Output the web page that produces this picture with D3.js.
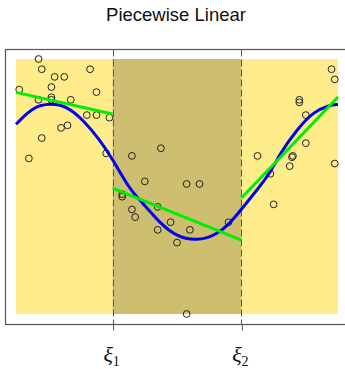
<!DOCTYPE html>
<html>
<head>
<meta charset="utf-8">
<script src="https://cdn.jsdelivr.net/npm/d3@7"></script>
<style>
  body { margin: 0; background: #fff; }
  svg { display: block; }
</style>
</head>
<body>
<svg id="chart" width="345" height="369"></svg>
<script>
// knots and data (x in [0,1], y in [0,1])
var knots = [0.3, 0.7];

var pointsX = [0.07, 0.08, 0.12, 0.15, 0.23, 0.01, 0.11, 0.25, 0.07, 0.11, 0.11, 0.17, 0.22, 0.25, 0.29,
               0.14, 0.16, 0.08, 0.04, 0.28, 0.36, 0.45, 0.98, 0.99, 0.88, 0.88, 0.90, 0.90, 0.75, 0.86,
               0.857, 0.79, 0.85, 0.99, 0.80, 0.66, 0.40, 0.53, 0.57, 0.33, 0.33, 0.36, 0.37, 0.44, 0.48,
               0.44, 0.54, 0.50, 0.53];
var pointsY = [1.00, 0.96, 0.93, 0.93, 0.96, 0.88, 0.89, 0.87, 0.84, 0.85, 0.84, 0.84, 0.78, 0.78, 0.77,
               0.73, 0.74, 0.69, 0.61, 0.63, 0.62, 0.65, 0.96, 0.92, 0.84, 0.83, 0.78, 0.67, 0.62, 0.62,
               0.615, 0.55, 0.58, 0.59, 0.43, 0.36, 0.52, 0.51, 0.51, 0.47, 0.46, 0.41, 0.38, 0.42, 0.36,
               0.33, 0.33, 0.28, 0.00];

// true function, sampled
var trueX = [0.0, 0.054, 0.106, 0.157, 0.209, 0.261, 0.302, 0.354, 0.395, 0.447, 0.499, 0.561, 0.623,
             0.665, 0.696, 0.748, 0.789, 0.820, 0.872, 0.923, 0.975, 1.0];
var trueY = [0.744, 0.813, 0.826, 0.816, 0.761, 0.682, 0.604, 0.486, 0.434, 0.356, 0.303, 0.286, 0.310,
             0.357, 0.404, 0.486, 0.552, 0.630, 0.722, 0.793, 0.820, 0.822];

// piecewise linear fit: start/end per region
var fitStartX = [0.0, 0.3, 0.7];
var fitEndX   = [0.3, 0.7, 1.0];
var fitStartY = [0.869, 0.494, 0.455];
var fitEndY   = [0.784, 0.290, 0.851];

var xLabels = ["1", "2"];

var svg = d3.select("#chart");

var x = d3.scaleLinear().domain([0, 1]).range([16, 338]);
var y = d3.scaleLinear().domain([0, 1]).range([314, 59]);

// background regions
var regions = [[0, knots[0], "#FFEC8B"], [knots[0], knots[1], "#CDBE70"], [knots[1], 1, "#FFEC8B"]];
svg.selectAll("rect.region")
  .data(regions)
  .enter()
  .append("rect")
  .attr("class", "region")
  .attr("x", function(d){ return x(d[0]); })
  .attr("y", y(1))
  .attr("width", function(d){ return x(d[1]) - x(d[0]); })
  .attr("height", y(0) - y(1))
  .attr("fill", function(d){ return d[2]; });

// frame (right side runs off the picture)
svg.append("rect")
  .attr("x", 5.5)
  .attr("y", 49.5)
  .attr("width", 360)
  .attr("height", 275)
  .attr("fill", "none")
  .attr("stroke", "#555")
  .attr("stroke-width", 1.2);

// knot dashes
svg.selectAll("line.knot")
  .data(knots)
  .enter()
  .append("line")
  .attr("class", "knot")
  .attr("x1", function(d){ return Math.round(x(d)) + 0.5; })
  .attr("x2", function(d){ return Math.round(x(d)) + 0.5; })
  .attr("y1", 49.5)
  .attr("y2", 324)
  .attr("stroke", "#555")
  .attr("stroke-width", 1)
  .attr("stroke-dasharray", "7,3");

// bottom axis ticks
var xAxis = d3.axisBottom(x)
  .tickValues(knots)
  .tickSize(6)
  .tickFormat("");
svg.append("g")
  .attr("transform", "translate(0.5,324.5)")
  .call(xAxis)
  .call(function(g){ g.select(".domain").remove(); })
  .selectAll("line")
  .attr("stroke", "#555");

// data points
var pts = pointsX.map(function(v, i){ return [v, pointsY[i]]; });
svg.selectAll("circle.pt")
  .data(pts)
  .enter()
  .append("circle")
  .attr("class", "pt")
  .attr("cx", function(d){ return x(d[0]); })
  .attr("cy", function(d){ return y(d[1]); })
  .attr("r", 3.4)
  .attr("fill", "none")
  .attr("stroke", "#222")
  .attr("stroke-width", 1);

// true function (blue)
var truePts = trueX.map(function(v, i){ return [v, trueY[i]]; });
svg.append("path")
  .datum(truePts)
  .attr("d", d3.line()
    .x(function(d){ return x(d[0]); })
    .y(function(d){ return y(d[1]); })
    .curve(d3.curveBasis))
  .attr("fill", "none")
  .attr("stroke", "#0000EE")
  .attr("stroke-width", 3);

// piecewise linear fit (green)
svg.selectAll("line.fit")
  .data(fitStartX)
  .enter()
  .append("line")
  .attr("class", "fit")
  .attr("x1", function(d){ return x(d); })
  .attr("y1", function(d, i){ return y(fitStartY[i]); })
  .attr("x2", function(d, i){ return x(fitEndX[i]); })
  .attr("y2", function(d, i){ return y(fitEndY[i]); })
  .attr("stroke", "#00EE00")
  .attr("stroke-width", 3);

// title
svg.append("text")
  .attr("x", 176)
  .attr("y", 21)
  .attr("text-anchor", "middle")
  .attr("font-family", "Liberation Sans, Arial, sans-serif")
  .attr("font-size", "18.5px")
  .attr("fill", "#111")
  .text("Piecewise Linear");

// knot labels
var lab = svg.selectAll("text.knotlab")
  .data(knots)
  .enter()
  .append("text")
  .attr("class", "knotlab")
  .attr("x", function(d){ return x(d) - 1; })
  .attr("y", 362)
  .attr("text-anchor", "middle")
  .attr("font-family", "Liberation Serif, DejaVu Serif, serif")
  .attr("fill", "#111");
lab.append("tspan")
  .attr("font-style", "italic")
  .attr("font-size", "22px")
  .text("\u03BE");
lab.append("tspan")
  .attr("font-size", "14px")
  .attr("dy", 4)
  .text(function(d, i){ return xLabels[i]; });
</script>
</body>
</html>
